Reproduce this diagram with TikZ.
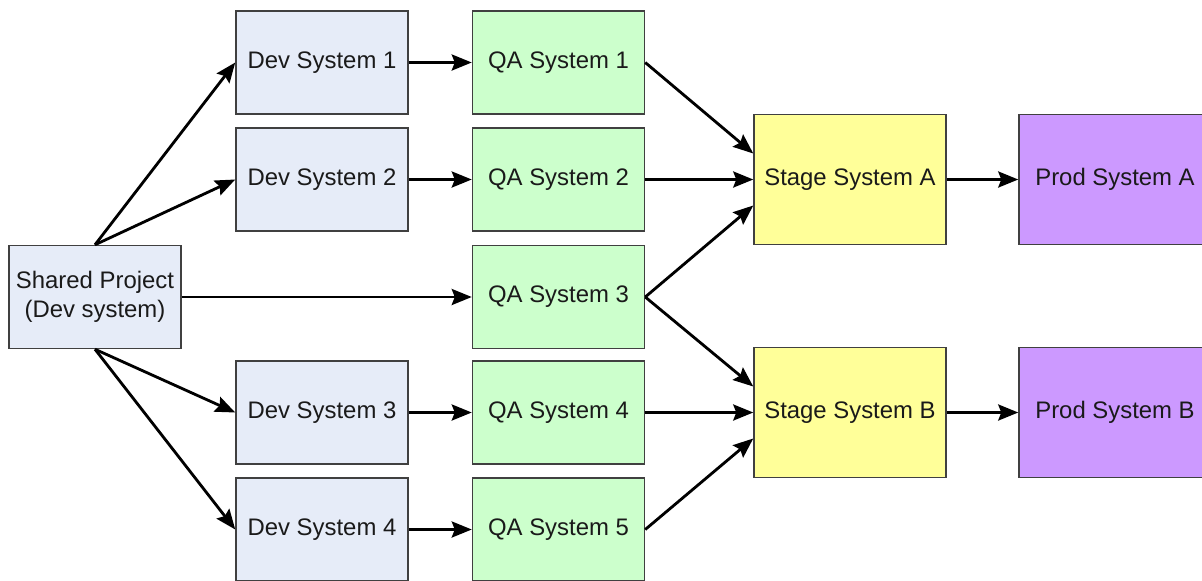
\documentclass[tikz,border=0pt]{standalone}
\usepackage{fontspec}
\setmainfont{Liberation Sans}
\usepackage{tikz}
\usetikzlibrary{positioning,calc,arrows.meta}
\definecolor{devfill}{HTML}{E6ECF8}
\definecolor{qafill}{HTML}{CCFFCC}
\definecolor{stagefill}{HTML}{FFFF99}
\definecolor{prodfill}{HTML}{CC99FF}
\definecolor{boxline}{HTML}{404040}
\definecolor{boxtext}{HTML}{1A1A1A}

\begin{document}
\begin{tikzpicture}[
  box/.style={draw=boxline, line width=0.85pt, minimum width=3.44cm, minimum height=2.06cm,
    align=center, inner sep=0pt, text=boxtext, font=\fontsize{13.6}{16.5}\selectfont},
  devbox/.style={box, fill=devfill},
  qabox/.style={box, fill=qafill},
  stagebox/.style={box, fill=stagefill, minimum width=3.84cm, minimum height=2.6cm},
  prodbox/.style={box, fill=prodfill, minimum width=3.84cm, minimum height=2.6cm},
  flow/.style={line width=1.6pt, -{Stealth[length=0.4cm, width=0.32cm, inset=0.06cm]}}
]
\useasboundingbox (0,0) rectangle (24.04,-11.6);
% systems
\node[devbox] (shared) at (1.9,-5.94) {Shared Project\\(Dev system)};
\node[devbox] (dev1) at (6.44,-1.25) {Dev System 1};
\node[devbox] (dev2) at (6.44,-3.59) {Dev System 2};
\node[devbox] (dev3) at (6.44,-8.25) {Dev System 3};
\node[devbox] (dev4) at (6.44,-10.59) {Dev System 4};
\node[qabox] (qa1) at (11.17,-1.25) {QA System 1};
\node[qabox] (qa2) at (11.17,-3.59) {QA System 2};
\node[qabox] (qa3) at (11.17,-5.94) {QA System 3};
\node[qabox] (qa4) at (11.17,-8.25) {QA System 4};
\node[qabox] (qa5) at (11.17,-10.59) {QA System 5};
\node[stagebox] (stagea) at (17.0,-3.59) {Stage System A};
\node[stagebox] (stageb) at (17.0,-8.25) {Stage System B};
\node[prodbox] (proda) at (22.3,-3.59) {Prod System A};
\node[prodbox] (prodb) at (22.3,-8.25) {Prod System B};
% flows
\draw[flow] (shared.north) -- (dev1.west);
\draw[flow] (shared.north) -- (dev2.west);
\draw[flow] (shared.south) -- (dev3.west);
\draw[flow] (shared.south) -- (dev4.west);
\draw[flow] (shared.east) -- (qa3.west);
\draw[flow] (dev1.east) -- (qa1.west);
\draw[flow] (dev2.east) -- (qa2.west);
\draw[flow] (dev3.east) -- (qa4.west);
\draw[flow] (dev4.east) -- (qa5.west);
\draw[flow] (qa1.east) -- ($(stagea.west)+(0,0.52)$);
\draw[flow] (qa2.east) -- (stagea.west);
\draw[flow] (qa3.east) -- ($(stagea.west)+(0,-0.52)$);
\draw[flow] (qa3.east) -- ($(stageb.west)+(0,0.52)$);
\draw[flow] (qa4.east) -- (stageb.west);
\draw[flow] (qa5.east) -- ($(stageb.west)+(0,-0.52)$);
\draw[flow] (stagea.east) -- (proda.west);
\draw[flow] (stageb.east) -- (prodb.west);
\end{tikzpicture}
\end{document}
